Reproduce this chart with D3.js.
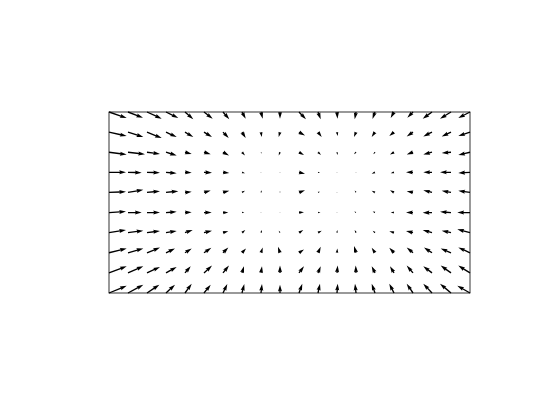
<!DOCTYPE html>
<html>
<head>
<meta charset="utf-8">
<script src="https://cdn.jsdelivr.net/npm/d3@7"></script>
<style>
  html, body { margin: 0; padding: 0; background: #fff; }
  svg { display: block; }
</style>
</head>
<body>
<svg id="chart" width="560" height="420"></svg>
<script>
// Grid positions (columns left->right, rows top->bottom)
const xGrid = [0,1,2,3,4,5,6,7,8,9,10,11,12,13,14,15,16,17,18,19];
const yGrid = [9,8,7,6,5,4,3,2,1,0];

// Horizontal vector components, one row per yGrid entry (top row first)
const U = [
  [17.7,15,14.7,12.3,8.3,8.7,6.3,3.7,1.7,0,7,2.7,0.5,-1.3,-2.5,-3.3,-5.7,-9.3,-11,-11.7],
  [17.7,15.3,14.7,10.7,8.3,8,5.7,3.7,0.7,-1.3,6,3.7,0.7,-2,-3.3,-4.7,-6.3,-8.7,-9.3,-11.7],
  [17.7,17,13,10.7,6.7,6.7,6,3,0.5,-1.3,5,3,0.7,-2,-1.7,-4,-6.3,-8.7,-9.3,-11.7],
  [17,13.7,13,10.7,6.7,8,6.3,3,0.3,0,6,2,0.5,-0.3,-3.3,-3.3,-7,-8.7,-11,-11.7],
  [17,15.3,13,12.3,6.7,6.7,6.3,3,0.7,0,6,2,0.3,-1.3,-3.3,-4,-6.3,-8.7,-9.3,-11.7],
  [17,13.7,13,10.7,6.7,7.7,5.3,2.3,0.3,0,5,2.5,0.3,-1.7,-2.3,-3.3,-7,-9.3,-11,-12.7],
  [17,15.3,13,10.7,7.7,8,5.3,3.3,1,-1.3,4.3,3.7,0.3,-1.3,-2.3,-4.7,-7,-9.3,-9.3,-12.7],
  [17.7,15.3,13,9,6.7,7.3,5.3,4,1.7,-2,5,2.7,0.3,-2,-3.3,-4.7,-6.3,-8,-10.3,-11.7],
  [17.7,15.3,13,10.7,5.7,8,6,2,1,0,5,2.7,0.7,-0.3,-3.3,-4,-6.3,-8.7,-10.3,-11.7],
  [17.7,15.3,12.3,9,6.7,6.7,4.3,2.3,1,0,3.3,2,0.7,-1,-3.3,-4.7,-6.3,-8.7,-11,-12.7]
];
// Vertical vector components (positive = up), same layout
const V = [
  [-6,-5.7,-6.7,-6,-7.3,-6.7,-7.3,-6.7,-6.7,-6.7,-7.3,-7.3,-6.7,-7.3,-7,-6,-5.7,-6.7,-6.7,-6],
  [-4,-5,-6,-5,-5,-5,-6,-6,-5,-5,-3.3,-5,-4,-5,-5,-4,-4.3,-4.3,-4.3,-4],
  [-2.3,-2,-1.7,-3.3,-1.7,-2,-3.3,-3.3,-1.5,-3.3,-2.7,-2.7,-2.7,-2,-2,-2.3,-2.3,-2.3,-0.7,-2.7],
  [0,-0.3,-0.3,-1,-0.3,-0.3,-0.7,-1,-0.3,-0.5,-1.3,-0.7,0,0,-1.3,-1,0,0,0,-0.7],
  [0.7,2.7,1.3,1.3,0.7,2,1.7,1.7,2.3,1.5,2.3,0.7,0.3,2,1.7,2.3,1.3,2.3,1.7,1.7],
  [1,0,0,0.7,0.3,0,0,0.3,0,0.3,0.3,0,0,1,1,0,0,-0.3,0.7,0],
  [2.7,2,1.7,1.7,2.7,2,1.3,2.7,2.7,2,2.7,2,2.7,2.7,2,1.3,1.7,2.7,2,3.3],
  [4.3,4.3,5.3,4.3,4.3,5,5.3,4.3,5.3,6,3.3,6,4.3,6.7,5,5,5.3,5.3,4.3,5.3],
  [6.7,6.7,6,6,6.7,7.3,7.3,6.7,6.7,7.3,6.7,6.7,7.3,7.3,6.7,6.7,7.3,6.7,7.3,7.3],
  [7.3,8.3,8.3,8.3,9.3,8.3,9,9,9,8.3,9.3,9.3,9.3,9.3,9.3,9.3,9.3,9.3,9.3,7.3]
];

const svg = d3.select("#chart");
const pLeft = 109, pRight = 470, pTop = 112, pBottom = 293;

const x = d3.scaleLinear().domain([0, 19]).range([pLeft, pRight]);
const y = d3.scaleLinear().domain([0, 9]).range([pBottom, pTop]);
// vector component units -> pixels
const len = d3.scaleLinear().domain([0, 1]).range([0, 1]);

const data = [];
yGrid.forEach((gy, r) => {
  xGrid.forEach((gx, c) => {
    data.push({ gx, gy, u: U[r][c], v: V[r][c] });
  });
});

const w = 1.35;             // shaft width in px
const hw = 3 * w, hl = 5 * w, hal = 4.5 * w;

function arrowPath(L) {
  if (L < w) {
    const s = Math.max(L, 0.6);
    const pts = d3.range(6).map(i => {
      const a = Math.PI / 3 * i;
      return [s * 0.5 * Math.cos(a), s * 0.5 * Math.sin(a)];
    });
    return "M" + pts.map(p => p.join(",")).join("L") + "Z";
  }
  let k = 1, Ld = L;
  if (L < hl) { k = L / hl; Ld = hl; }
  const pts = [
    [0, -w / 2], [Ld - hal, -w / 2], [Ld - hl, -hw / 2], [Ld, 0],
    [Ld - hl, hw / 2], [Ld - hal, w / 2], [0, w / 2]
  ].map(p => [p[0] * k, p[1] * k]);
  return "M" + pts.map(p => p.join(",")).join("L") + "Z";
}

svg.append("g").selectAll("path")
  .data(data)
  .join("path")
  .attr("d", d => arrowPath(len(Math.hypot(d.u, d.v))))
  .attr("transform", d => {
    const ang = Math.atan2(-d.v, d.u) * 180 / Math.PI;
    return `translate(${x(d.gx)},${y(d.gy)}) rotate(${ang})`;
  })
  .attr("fill", "#000")
  .attr("stroke", "none");

// frame
svg.append("rect")
  .attr("x", pLeft).attr("y", pTop)
  .attr("width", pRight - pLeft).attr("height", pBottom - pTop)
  .attr("fill", "none")
  .attr("stroke", "#000")
  .attr("stroke-width", 0.8);
</script>
</body>
</html>
